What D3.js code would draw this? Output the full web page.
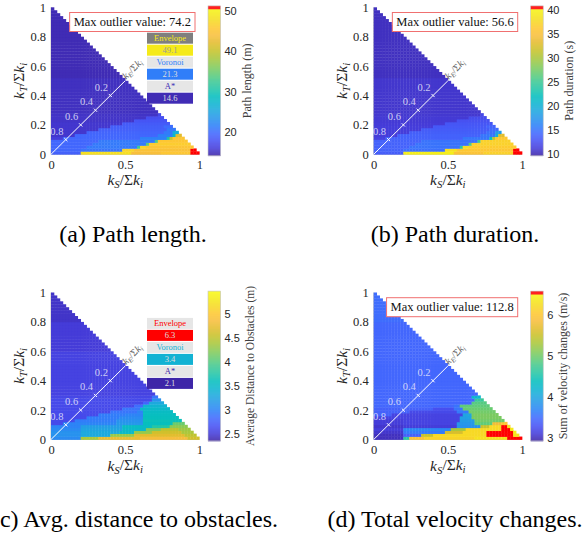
<!DOCTYPE html>
<html>
<head>
<meta charset="utf-8">
<script src="https://cdn.jsdelivr.net/npm/d3@7"></script>
<style>
  body { margin: 0; background: #fff; }
  svg { display: block; }
</style>
</head>
<body>
<script>
const width = 584;
const height = 535;

const captions = ['(a) Path length.', '(b) Path duration.', '(c) Avg. distance to obstacles.', '(d) Total velocity changes.'];
const cbarLabels = ['Path length (m)', 'Path duration (s)', 'Average Distance to Obstacles (m)', 'Sum of velocity changes (m/s)'];
const cbarDomains = [[14.1, 51.2], [9.64, 40.9], [2.35, 5.48], [2.92, 6.58]];
const cbarTicks = [[20, 30, 40, 50], [10, 15, 20, 25, 30, 35, 40], [2.5, 3, 3.5, 4, 4.5, 5], [3, 4, 5, 6]];
const cbarOutlierBand = [true, true, false, true];
const outlierMax = [74.2, 56.6, null, 112.8];

const plannerNames = ['Envelope', 'Voronoi', 'A*'];
const plannerValues = [[49.1, 21.3, 14.6], null, [6.3, 3.4, 2.1], null];

const axisTicksX = [0, 0.5, 1];
const axisTicksY = [0, 0.2, 0.4, 0.6, 0.8, 1];
const diagTicks = [0.1, 0.2, 0.3, 0.4];
const diagTickLabels = ['0.8', '0.6', '0.4', '0.2'];

// heat map rows, bottom (kT = 0) to top, as [cell count, value] runs along kS;
// the last run of a row reaches the hypotenuse
const gridN = 50;
const rowsA = [
  [[10, 19], [17, 48], [10, 44], [10, 45.5], [3, 60]],
  [[10, 19.5], [14, 20.5], [4, 47], [19, 44.5], [2, 60]],
  [[12, 19.5], [17, 21], [1, 32], [2, 47], [16, 45]],
  [[14, 19.5], [18, 21], [1, 34], [14, 46]],
  [[16, 19.5], [19, 21], [1, 33], [10, 45.5]],
  [[4, 16], [26, 19.5], [9, 21.5], [1, 30], [1, 40], [4, 45]],
  [[8, 15.5], [28, 19.5], [5, 21.5], [1, 28], [2, 42]],
  [[12, 15.5], [26, 19.3], [3, 21], [2, 26]],
  [[16, 15.5], [23, 19], [3, 21]],
  [[20, 15.5], [18, 18.8], [3, 20]],
  [[24, 15.5], [16, 18.5]],
  [[28, 15.3], [11, 18]],
  [[32, 15.3], [6, 17.5]],
  [[36, 15.2], [1, 17]],
  [[1, 15]], [[1, 15]], [[1, 15]], [[1, 15]], [[1, 15]], [[1, 15]],
  [[1, 15]], [[1, 15]], [[1, 15]], [[1, 15]], [[1, 15]], [[1, 15]],
  [[1, 14.6]], [[1, 14.6]], [[1, 14.6]], [[1, 14.6]], [[1, 14.6]], [[1, 14.6]],
  [[1, 14.6]], [[1, 14.6]], [[1, 14.6]], [[1, 14.6]], [[1, 14.6]], [[1, 14.6]],
  [[1, 14.6]], [[1, 14.6]], [[1, 14.6]], [[1, 14.6]], [[1, 14.6]], [[1, 14.6]],
  [[1, 14.6]], [[1, 14.6]], [[1, 14.6]], [[1, 14.6]], [[1, 14.6]], [[1, 14.6]]
];
const rowsB = [
  [[10, 13.5], [17, 39.5], [10, 35.5], [10, 37], [3, 50]],
  [[10, 13.8], [14, 14.8], [4, 38.5], [19, 36], [2, 50]],
  [[12, 13.8], [17, 15], [1, 24], [2, 38], [16, 36.5]],
  [[14, 13.8], [18, 15], [1, 26], [14, 37]],
  [[16, 13.8], [19, 15], [1, 25], [10, 37]],
  [[4, 11.5], [26, 13.8], [9, 15.2], [1, 22], [1, 31], [4, 36]],
  [[8, 11.2], [28, 13.8], [5, 15.2], [1, 20], [2, 33]],
  [[12, 11.2], [26, 13.6], [3, 14.8], [2, 18]],
  [[16, 11.2], [23, 13.4], [3, 14.5]],
  [[20, 11.2], [18, 13.2], [3, 14]],
  [[24, 11.1], [16, 13]],
  [[28, 11], [11, 12.6]],
  [[32, 11], [6, 12.3]],
  [[36, 10.9], [1, 12]],
  [[1, 10.8]], [[1, 10.8]], [[1, 10.8]], [[1, 10.8]], [[1, 10.8]], [[1, 10.8]],
  [[1, 10.8]], [[1, 10.8]], [[1, 10.8]], [[1, 10.8]], [[1, 10.8]], [[1, 10.8]],
  [[1, 10.4]], [[1, 10.4]], [[1, 10.4]], [[1, 10.4]], [[1, 10.4]], [[1, 10.4]],
  [[1, 10.4]], [[1, 10.4]], [[1, 10.4]], [[1, 10.4]], [[1, 10.4]], [[1, 10.4]],
  [[1, 10.4]], [[1, 10.4]], [[1, 10.4]], [[1, 10.4]], [[1, 10.4]], [[1, 10.4]],
  [[1, 10.4]], [[1, 10.4]], [[1, 10.4]], [[1, 10.4]], [[1, 10.4]], [[1, 10.4]]
];
const rowsC = [
  [[10, 3.05], [6, 4.4], [14, 4.75], [16, 4.85], [4, 4.6]],
  [[10, 3.1], [10, 3.3], [8, 4.3], [17, 4.7], [4, 4.5]],
  [[10, 3.1], [13, 3.3], [5, 3.5], [6, 4.3], [10, 4.6], [4, 4.4]],
  [[10, 3.05], [14, 3.25], [8, 3.5], [5, 4.2], [6, 4.5], [4, 4.35]],
  [[10, 3.0], [14, 3.2], [10, 3.55], [6, 3.75], [6, 4.25]],
  [[4, 2.6], [18, 3.0], [9, 3.15], [10, 3.6], [4, 4.1]],
  [[8, 2.6], [14, 2.95], [9, 3.1], [13, 3.62]],
  [[12, 2.6], [11, 2.95], [8, 3.05], [12, 3.6]],
  [[16, 2.6], [9, 2.95], [6, 3.0], [11, 3.58]],
  [[20, 2.6], [9, 2.9], [2, 3.0], [10, 3.55]],
  [[24, 2.6], [6, 2.9], [10, 3.5]],
  [[28, 2.6], [3, 2.85], [8, 3.42]],
  [[31, 2.6], [2, 2.8], [5, 3.3]],
  [[34, 2.6], [3, 3.1]],
  [[34, 2.58], [2, 2.9]],
  [[1, 2.55]], [[1, 2.55]], [[1, 2.55]], [[1, 2.55]], [[1, 2.55]],
  [[1, 2.55]], [[1, 2.55]], [[1, 2.55]], [[1, 2.55]], [[1, 2.55]],
  [[1, 2.55]], [[1, 2.55]], [[1, 2.55]], [[1, 2.55]], [[1, 2.55]],
  [[1, 2.5]], [[1, 2.5]], [[1, 2.5]], [[1, 2.5]], [[1, 2.5]],
  [[1, 2.5]], [[1, 2.5]], [[1, 2.5]], [[1, 2.5]], [[1, 2.5]],
  [[1, 2.45]], [[1, 2.45]], [[1, 2.45]], [[1, 2.45]], [[1, 2.45]],
  [[1, 2.45]], [[1, 2.45]], [[1, 2.45]], [[1, 2.45]], [[1, 2.45]]
];
const rowsD = [
  [[10, 3.0], [2, 4.6], [5, 5.9], [17, 6.15], [11, 6.3], [5, 7]],
  [[10, 3.0], [6, 3.4], [4, 5.5], [18, 6.2], [9, 7], [2, 6.3]],
  [[10, 3.05], [14, 3.6], [6, 5.6], [8, 6.2], [9, 7], [1, 6.4]],
  [[10, 3.1], [16, 3.7], [5, 5.3], [12, 6.2], [3, 7], [1, 6.4]],
  [[10, 3.05], [18, 3.1], [8, 3.8], [3, 5.5], [4, 6.2], [2, 7], [1, 6.3]],
  [[10, 3.1], [18, 3.15], [6, 3.85], [6, 4.9], [3, 5.8], [2, 6.0]],
  [[10, 3.1], [19, 3.15], [5, 3.9], [10, 5.0]],
  [[10, 3.15], [19, 3.15], [4, 3.95], [10, 5.05]],
  [[6, 3.4], [24, 3.15], [3, 4.0], [9, 5.05]],
  [[12, 3.4], [16, 3.2], [4, 3.6], [9, 5.0]],
  [[20, 3.4], [7, 3.25], [3, 3.55], [10, 4.95]],
  [[27, 3.45], [2, 3.55], [10, 4.9]],
  [[33, 3.45], [5, 4.85]],
  [[34, 3.45], [3, 4.7]],
  [[33, 3.45], [3, 4.2]],
  [[1, 3.45]], [[1, 3.45]], [[1, 3.45]], [[1, 3.45]], [[1, 3.45]],
  [[1, 3.45]], [[1, 3.45]], [[1, 3.45]], [[1, 3.45]], [[1, 3.45]],
  [[1, 3.45]], [[1, 3.45]], [[1, 3.45]], [[1, 3.45]], [[1, 3.45]],
  [[1, 3.45]], [[1, 3.45]], [[1, 3.45]], [[1, 3.45]], [[1, 3.45]],
  [[1, 3.45]], [[1, 3.45]], [[1, 3.45]], [[1, 3.45]], [[1, 3.45]],
  [[1, 3.5]], [[1, 3.5]], [[1, 3.5]], [[1, 3.5]], [[1, 3.5]],
  [[1, 3.5]], [[1, 3.5]], [[1, 3.5]], [[1, 3.5]], [[1, 3.5]]
];
const heatRows = [rowsA, rowsB, rowsC, rowsD];

// parula colormap anchors
const parulaStops = d3.range(0, 1.0001, 0.05);
const parulaColors = ['#3e26a8', '#453dda', '#4753f4', '#4269fe', '#2e81f8', '#2796eb', '#1ea8de',
  '#0db6cf', '#07bfbd', '#26c6a6', '#42c992', '#65cb73', '#88ca57', '#a8c73d', '#c7c22b',
  '#e2bd2e', '#f7be3c', '#fec832', '#f6da24', '#f5ec19', '#f9fb15'];
const parula = d3.scaleLinear().domain(parulaStops).range(parulaColors)
  .interpolate(d3.interpolateRgb).clamp(true);

// layout
const panelLeft = [51, 373.7, 51, 373.7];
const panelTop = [7.3, 7.3, 292.5, 292.5];
const pw = 148.3, ph = 147;
const captionX = [133, 455, 135, 455];
const captionY = [242, 242, 527, 527];

const serif = '"Liberation Serif", "Times New Roman", serif';
const sans = '"Liberation Sans", Arial, sans-serif';
const ink = '#262626';

const svg = d3.select('body').append('svg')
  .attr('width', width).attr('height', height)
  .attr('font-family', serif);

function ratioLabel(text, sub) {
  text.append('tspan').attr('font-style', 'italic').text('k');
  text.append('tspan').attr('font-style', 'italic').attr('font-size', '0.7em').attr('dy', '0.28em').text(sub);
  text.append('tspan').attr('dy', '-0.2em').text('/Σ');
  text.append('tspan').attr('font-style', 'italic').text('k');
  text.append('tspan').attr('font-style', 'italic').attr('font-size', '0.7em').attr('dy', '0.28em').text('i');
}

function drawPanel(k) {
  const left = panelLeft[k], top = panelTop[k];
  const g = svg.append('g');
  const x = d3.scaleLinear().domain([0, 1]).range([left, left + pw]);
  const y = d3.scaleLinear().domain([0, 1]).range([top + ph, top]);
  const [lo, hi] = cbarDomains[k];
  const redFrom = cbarOutlierBand[k] ? hi - 0.022 * (hi - lo) : hi;
  const color = v => v >= redFrom ? '#ff0000' : parula((v - lo) / (hi - lo));
  const step = 1 / gridN;

  // axis lines
  g.append('path')
    .attr('d', `M${x(0)},${y(1)}V${y(0)}H${x(1)}`)
    .attr('fill', 'none').attr('stroke', '#c4c4c4').attr('stroke-width', 1);

  // heat map cells
  const cells = [];
  heatRows[k].forEach((row, j) => {
    const n = gridN - j;
    let i = 0;
    row.forEach(([cnt, v], s) => {
      const end = s === row.length - 1 ? n : Math.min(n, i + cnt);
      for (; i < end; i++) cells.push({i, j, v});
    });
  });
  g.append('g').selectAll('rect').data(cells).join('rect')
    .attr('x', d => x(d.i * step))
    .attr('y', d => y((d.j + 1) * step))
    .attr('width', x(step) - x(0) + 0.35)
    .attr('height', y(0) - y(step) + 0.35)
    .attr('fill', d => color(d.v));

  // axes
  const yAxis = g.append('g')
    .attr('transform', `translate(${x(0)},0)`)
    .call(d3.axisLeft(y).tickValues(axisTicksY).tickFormat(d3.format('~g')).tickSize(0).tickPadding(5));
  const xAxis = g.append('g')
    .attr('transform', `translate(0,${y(0)})`)
    .call(d3.axisBottom(x).tickValues(axisTicksX).tickFormat(d3.format('~g')).tickSize(0).tickPadding(6));
  [xAxis, yAxis].forEach(a => {
    a.select('.domain').remove();
    a.selectAll('text').attr('font-family', serif).attr('font-size', 12.5).attr('fill', ink);
  });

  g.append('text')
    .attr('x', x(0.5)).attr('y', y(0) + 31)
    .attr('text-anchor', 'middle').attr('font-size', 15.5).attr('fill', ink)
    .call(ratioLabel, 'S');
  g.append('text')
    .attr('transform', `translate(${x(0) - 27},${y(0.5)}) rotate(-90)`)
    .attr('text-anchor', 'middle').attr('font-size', 15.5).attr('fill', ink)
    .call(ratioLabel, 'T');

  // diagonal kE axis
  g.append('line')
    .attr('x1', x(0)).attr('y1', y(0)).attr('x2', x(0.5)).attr('y2', y(0.5))
    .attr('stroke', '#fff').attr('stroke-width', 1);
  g.append('g').selectAll('line').data(diagTicks).join('line')
    .attr('x1', d => x(d) - 1.6).attr('y1', d => y(d) - 1.6)
    .attr('x2', d => x(d) + 1.6).attr('y2', d => y(d) + 1.6)
    .attr('stroke', '#fff').attr('stroke-width', 1);
  g.append('g').selectAll('text').data(diagTicks).join('text')
    .attr('x', d => x(d) - 9).attr('y', d => y(d) - 5)
    .attr('text-anchor', 'middle').attr('font-size', 10.5)
    .attr('fill', 'rgba(230,230,250,0.85)')
    .text((d, i) => diagTickLabels[i]);
  g.append('text')
    .attr('transform', `translate(${x(0.5) + 1},${y(0.5) - 1}) rotate(-45)`)
    .attr('font-size', 10).attr('fill', '#5a5a5a')
    .call(ratioLabel, 'E');

  // colorbar
  const cbLeft = left + 157, cbW = 12.5;
  const cbTop = top - 1.4, cbBottom = top + ph + 1.4;
  const cy = d3.scaleLinear().domain([lo, hi]).range([cbBottom, cbTop]);
  g.append('g').selectAll('rect').data(d3.range(cbTop, cbBottom, 0.5)).join('rect')
    .attr('x', cbLeft).attr('y', d => d).attr('width', cbW).attr('height', 0.7)
    .attr('fill', d => color(cy.invert(d + 0.25)));
  g.append('rect')
    .attr('x', cbLeft).attr('y', cbTop).attr('width', cbW).attr('height', cbBottom - cbTop)
    .attr('fill', 'none').attr('stroke', '#c4c4c4').attr('stroke-width', 0.6);
  const cbAxis = g.append('g')
    .attr('transform', `translate(${cbLeft + cbW},0)`)
    .call(d3.axisRight(cy).tickValues(cbarTicks[k]).tickFormat(d3.format('~g')).tickSize(0).tickPadding(4));
  cbAxis.select('.domain').remove();
  cbAxis.selectAll('text').attr('font-family', sans).attr('font-size', 11).attr('fill', ink);
  let tickW = 0;
  cbAxis.selectAll('text').each(function () { tickW = Math.max(tickW, this.getComputedTextLength()); });
  g.append('text')
    .attr('transform', `translate(${cbLeft + cbW + 4 + tickW + 14},${(cbTop + cbBottom) / 2}) rotate(-90)`)
    .attr('text-anchor', 'middle').attr('font-size', k === 2 ? 11.5 : 12).attr('fill', '#404040')
    .text(cbarLabels[k]);

  // outlier box
  if (outlierMax[k] !== null) {
    const box = g.append('g');
    const t = box.append('text')
      .attr('y', top + 18.6).attr('font-size', 12.5).attr('fill', '#111')
      .text(`Max outlier value: ${outlierMax[k].toFixed(1)}`);
    const tw = t.node().getComputedTextLength();
    const bx = left + 144 - tw - 8;
    t.attr('x', bx + 4);
    box.insert('rect', 'text')
      .attr('x', bx).attr('y', top + 5.2).attr('width', tw + 8).attr('height', 19)
      .attr('fill', '#fff').attr('stroke', '#f07070').attr('stroke-width', 1);
  }

  // planner comparison table
  if (plannerValues[k] !== null) {
    const tx = left + 96, tw = 46, rowH = 11, pitch = 12;
    const ty = top + 25.4;
    plannerValues[k].forEach((v, r) => {
      const c = color(v);
      const bright = d3.lab(c).l > 75;
      const y0 = ty + r * 2 * pitch;
      g.append('rect').attr('x', tx).attr('y', y0).attr('width', tw).attr('height', rowH)
        .attr('fill', bright ? '#7f7f7f' : '#e6e6e6');
      g.append('text').attr('x', tx + tw / 2).attr('y', y0 + 8.3)
        .attr('text-anchor', 'middle').attr('font-size', 8.5).attr('fill', c)
        .text(plannerNames[r]);
      g.append('rect').attr('x', tx).attr('y', y0 + pitch).attr('width', tw).attr('height', rowH)
        .attr('fill', c);
      g.append('text').attr('x', tx + tw / 2).attr('y', y0 + pitch + 8.3)
        .attr('text-anchor', 'middle').attr('font-size', 8.5)
        .attr('fill', bright ? '#9a9a9a' : '#dedede')
        .text(v.toFixed(1));
    });
  }

  // caption
  svg.append('text')
    .attr('x', captionX[k]).attr('y', captionY[k])
    .attr('text-anchor', 'middle').attr('font-family', serif)
    .attr('font-size', 24).attr('fill', '#000')
    .text(captions[k]);
}

d3.range(4).forEach(drawPanel);
</script>
</body>
</html>
